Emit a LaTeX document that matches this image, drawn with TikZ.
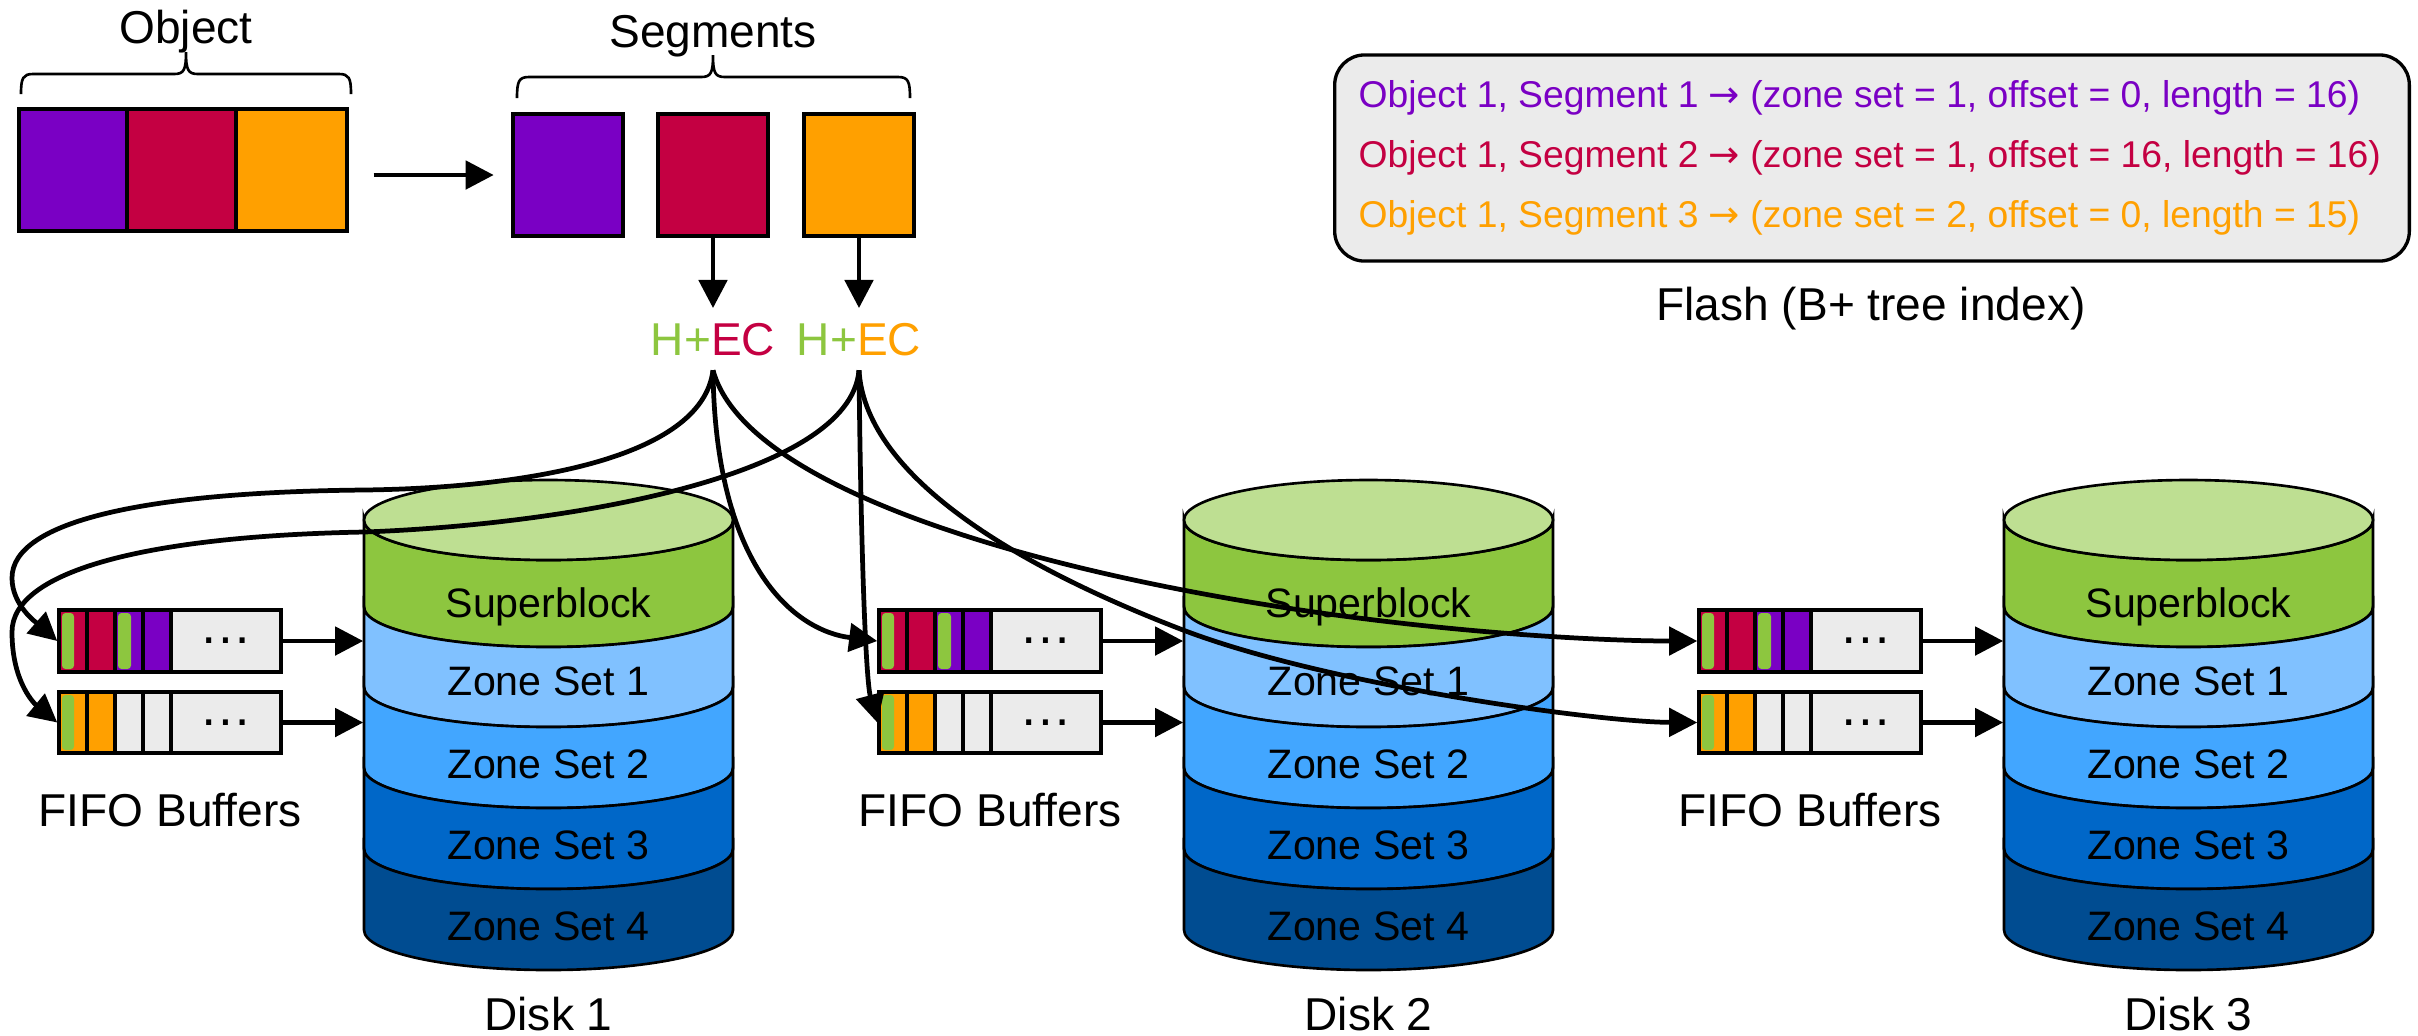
\documentclass[tikz,border=0pt]{standalone}
\usepackage{fontspec}
\setmainfont{Liberation Sans}
\newfontfamily\symfont{DejaVu Sans}
\usetikzlibrary{arrows.meta}

\definecolor{segpurple}{HTML}{7A00C4}
\definecolor{segred}{HTML}{C40042}
\definecolor{segorange}{HTML}{FFA000}
\definecolor{hashgreen}{HTML}{8DC63F}
\definecolor{disktop}{HTML}{BEDF92}
\definecolor{zoneA}{HTML}{80C1FF}
\definecolor{zoneB}{HTML}{42A6FF}
\definecolor{zoneC}{HTML}{0067C8}
\definecolor{zoneD}{HTML}{004C91}
\definecolor{bufgray}{HTML}{EBEBEB}

\tikzset{
  lbl/.style={font=\fontsize{13.1}{15}\selectfont, inner sep=0pt},
  ztxt/.style={font=\fontsize{11.7}{14}\selectfont, inner sep=0pt, anchor=base},
  itxt/.style={font=\fontsize{10.6}{13}\selectfont, inner sep=0pt, anchor=base west},
  cell/.style={draw, line width=0.95pt, minimum height=1.22cm, inner sep=0pt},
  conn/.style={line width=1.35pt, -{Triangle[length=8pt,width=8pt]}},
  brace/.style={line width=0.75pt},
  diskline/.style={line width=0.75pt},
  boxline/.style={line width=0.95pt},
  fifobox/.style={draw, line width=0.95pt, minimum width=2.22cm, minimum height=0.62cm, inner sep=0pt},
  hec/.style={font=\fontsize{13.1}{15}\selectfont, inner sep=4pt, anchor=base},
  dotsel/.style={font=\fontsize{15}{17}\selectfont, inner sep=0pt},
}

\begin{document}
\begin{tikzpicture}[x=0.01cm, y=-0.01cm]
\useasboundingbox (0,0) rectangle (2418,1035);

% ---------- object and its segments ----------
\node[lbl, anchor=base] (objlbl) at (186,43) {Object};
\draw[brace] (21,94) .. controls (21,78) and (23,74) .. (33,74) -- (174,74)
  .. controls (184,74) and (186,70) .. (186,52)
  .. controls (186,70) and (188,74) .. (198,74) -- (339,74)
  .. controls (349,74) and (351,78) .. (351,94);
\node[cell, fill=segpurple, minimum width=1.08cm] (ob1) at (73,170) {};
\node[cell, fill=segred, minimum width=1.09cm] (ob2) at (181.5,170) {};
\node[cell, fill=segorange, minimum width=1.11cm] (ob3) at (291.5,170) {};

\node[lbl, anchor=base] (seglbl) at (713,47) {Segments};
\draw[brace] (517,98) .. controls (517,81) and (519,77) .. (529,77) -- (701,77)
  .. controls (711,77) and (713,73) .. (713,55)
  .. controls (713,73) and (715,77) .. (725,77) -- (898,77)
  .. controls (908,77) and (910,81) .. (910,98);
\node[cell, fill=segpurple, minimum width=1.10cm] (sg1) at (568,175) {};
\node[cell, fill=segred, minimum width=1.10cm] (sg2) at (713,175) {};
\node[cell, fill=segorange, minimum width=1.10cm] (sg3) at (859,175) {};

\draw[conn, shorten <=7.1pt, shorten >=5pt] (ob3.east |- sg1.west) -- (sg1.west);

\node[hec] (hec1) at (713,355) {\textcolor{hashgreen}{H+}\textcolor{segred}{EC}};
\node[hec] (hec2) at (859,355) {\textcolor{hashgreen}{H+}\textcolor{segorange}{EC}};
\draw[conn] (sg2.south) -- (hec1.north);
\draw[conn] (sg3.south) -- (hec2.north);

% ---------- flash index ----------
\node[draw, line width=0.95pt, fill=bufgray, rounded corners=8.5pt,
      minimum width=10.74cm, minimum height=2.06cm, inner sep=0pt] (flash) at (1872,158) {};
\node[itxt, text=segpurple] (ix1) at (1358,107)
  {Object 1, Segment 1 {\symfont →} (zone set = 1, offset = 0, length = 16)};
\node[itxt, text=segred] (ix2) at (1358,167)
  {Object 1, Segment 2 {\symfont →} (zone set = 1, offset = 16, length = 16)};
\node[itxt, text=segorange] (ix3) at (1358,227)
  {Object 1, Segment 3 {\symfont →} (zone set = 2, offset = 0, length = 15)};
\node[lbl, anchor=base] (flashlbl) at (1871,320) {Flash (B+ tree index)};

% ---------- disks with their FIFO buffers ----------
\foreach \d/\dx in {1/0,2/820,3/1640} {
  \begin{scope}[shift={(\dx,0)}]
    % cylinder bands
    \foreach \yt/\yb/\col in {520/607/hashgreen, 607/687/zoneA, 687/768/zoneB, 768/849/zoneC, 849/930/zoneD}
      \draw[diskline, fill=\col] (364,\yt) -- (364,\yb)
        arc[start angle=180, end angle=0, x radius=184.5, y radius=40]
        -- (733,\yt)
        arc[start angle=0, end angle=180, x radius=184.5, y radius=40] -- cycle;
    \draw[diskline, fill=disktop] (548.5,520) ellipse[x radius=184.5, y radius=40];
    \node[inner sep=0pt, minimum width=3.69cm, minimum height=4.9cm] (disk\d) at (548.5,725) {};
    \node[ztxt] (sb\d) at (548.5,617) {Superblock};
    \node[ztxt] (za\d) at (548.5,695) {Zone Set 1};
    \node[ztxt] (zb\d) at (548.5,778) {Zone Set 2};
    \node[ztxt] (zc\d) at (548.5,859) {Zone Set 3};
    \node[ztxt] (zd\d) at (548.5,940) {Zone Set 4};
    \node[lbl, anchor=base] (dl\d) at (548.5,1030) {Disk \d};

    % buffer for the red segment's chunks
    \fill[bufgray] (59,610) rectangle (281,672);
    \fill[segred] (59,610) rectangle (115,672);
    \fill[segpurple] (115,610) rectangle (171,672);
    \fill[hashgreen, rounded corners=1pt] (62,613) rectangle (74,669);
    \fill[hashgreen, rounded corners=1pt] (118,613) rectangle (131,669);
    \draw[boxline] (87,610) -- (87,672) (115,610) -- (115,672)
                   (143,610) -- (143,672) (171,610) -- (171,672);
    \node[fifobox] (fa\d) at (170,641) {};
    \node[dotsel] (da\d) at (226,641) {…};

    % buffer for the orange segment's chunks
    \fill[bufgray] (59,692) rectangle (281,753);
    \fill[segorange] (59,692) rectangle (115,753);
    \fill[hashgreen, rounded corners=1pt] (62,695) rectangle (74,750);
    \draw[boxline] (87,692) -- (87,753) (115,692) -- (115,753)
                   (143,692) -- (143,753) (171,692) -- (171,753);
    \node[fifobox, minimum height=0.61cm] (fb\d) at (170,722.5) {};
    \node[dotsel] (db\d) at (226,722.5) {…};

    \node[lbl, anchor=base] (fl\d) at (170,826) {FIFO Buffers};
  \end{scope}
  \draw[conn] (fa\d.east) -- (fa\d.east -| disk\d.west);
  \draw[conn] (fb\d.east) -- (fb\d.east -| disk\d.west);
}

% ---------- chunk placement ----------
\draw[conn] (hec1.south) .. controls (702,460) and (520,488) .. (364,490)
  .. controls (150,492) and (12,520) .. (12,578)
  .. controls (12,606) and (38,624) .. (fa1.west);
\draw[conn] (hec2.south) .. controls (850,478) and (560,525) .. (364,532)
  .. controls (150,536) and (12,570) .. (12,632)
  .. controls (12,684) and (36,705) .. (fb1.west);
\draw[conn] (hec1.south) .. controls (715,560) and (790,630) .. (fa2.west);
\draw[conn] (hec2.south) .. controls (861,560) and (866,680) .. (fb2.west);
\draw[conn] (hec1.south) .. controls (740,470) and (950,545) .. (1183,590)
  .. controls (1400,632) and (1600,641) .. (fa3.west);
\draw[conn] (hec2.south) .. controls (865,470) and (1000,560) .. (1183,630)
  .. controls (1330,686) and (1600,722) .. (fb3.west);
\end{tikzpicture}
\end{document}
